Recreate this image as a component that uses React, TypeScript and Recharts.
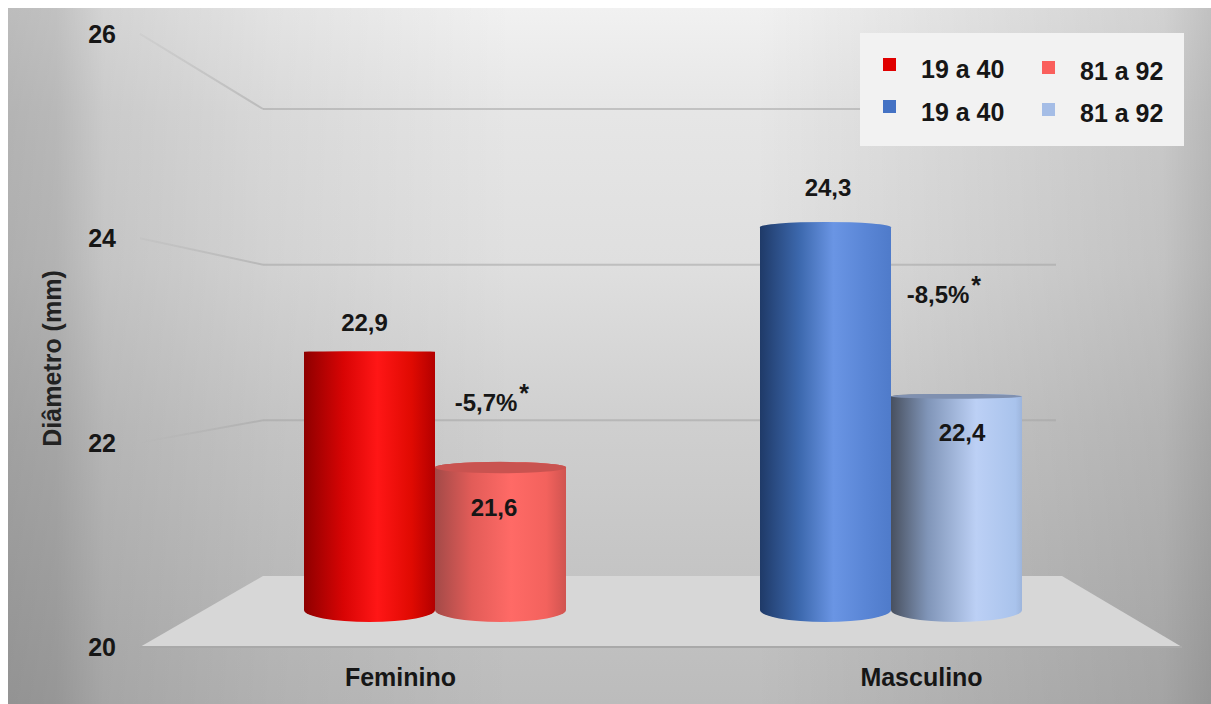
import React from "react";
import {
  BarChart, Bar, XAxis, YAxis, ReferenceLine, ReferenceArea, ReferenceDot, LabelList, Legend,
} from "recharts";

const categories = ["Feminino", "Masculino"];
const youngValues = [22.9, 24.3];
const oldValues = [21.6, 22.4];
const changeLabels = ["-5,7%", "-8,5%"];
const changeLevels = [22.39, 23.45];
const yTicks = [20, 22, 24, 26];
const wallLevels = [22, 24, 26];
const legendRows = [
  { label: "19 a 40", color: "#e00000", label2: "81 a 92", color2: "#fa5f5c" },
  { label: "19 a 40", color: "#4472c4", label2: "81 a 92", color2: "#a5bde6" },
];

const chartData = categories.map((name, i) => ({
  name,
  young: youngValues[i],
  old: oldValues[i],
}));

const FONT = "'Liberation Sans', Arial, sans-serif";
const INK = "#161616";
const HORIZON = 343;
const FLOOR_DROP = 37;
const FLOOR_RY = 12;

const youngStops = [
  [[0, "#8e0000"], [0.3, "#d80404"], [0.56, "#ff1616"], [0.82, "#e00a02"], [1, "#b30000"]],
  [[0, "#1f3a68"], [0.3, "#3c68ad"], [0.56, "#6a95e4"], [0.8, "#5a86d6"], [1, "#4f7bca"]],
];
const oldStops = [
  [[0, "#a34a48"], [0.28, "#e25c58"], [0.58, "#ff6a66"], [0.85, "#f3625d"], [1, "#d05450"]],
  [[0, "#48505f"], [0.28, "#8095b8"], [0.65, "#bcd0f5"], [0.95, "#a9c3ec"], [1, "#9db5dc"]],
];
const oldLids = ["#c95350", "#7f90b0"];

function makeCylinder(stopsList: any[], lids: (string | null)[], prefix: string) {
  return function Cylinder(props: any) {
    const { x, y, width, height, index } = props;
    const stops = stopsList[index];
    const id = `${prefix}-${index}`;
    const bottom = y + height - FLOOR_DROP;
    const rx = width / 2;
    const topRy = Math.max(Math.abs(y - HORIZON) / 22, 0.5);
    const d = `M${x},${y} A${rx},${topRy} 0 0 1 ${x + width},${y} L${x + width},${bottom} A${rx},${FLOOR_RY} 0 0 1 ${x},${bottom} Z`;
    const lid = lids[index];
    return (
      <g>
        <linearGradient id={id} x1="0" y1="0" x2="1" y2="0">
          {stops.map((s: any, i: number) => (
            <stop key={i} offset={s[0]} stopColor={s[1]} />
          ))}
        </linearGradient>
        <path d={d} fill={`url(#${id})`} />
        {lid && y > HORIZON ? (
          <ellipse cx={x + rx} cy={y} rx={rx} ry={topRy} fill={lid} />
        ) : null}
      </g>
    );
  };
}

const YoungCylinder = makeCylinder(youngStops, [null, null], "young");
const OldCylinder = makeCylinder(oldStops, oldLids, "old");

function makeValueLabel(shiftX: number[], shiftY: number[]) {
  return function ValueLabel(props: any) {
    const { x, y, width, value, index } = props;
    return (
      <text
        x={x + width / 2 + shiftX[index]}
        y={y + shiftY[index]}
        textAnchor="middle"
        dominantBaseline="central"
        fontSize={24}
        fontWeight={700}
        fontFamily={FONT}
        fill={INK}
      >
        {Number(value).toFixed(1).replace(".", ",")}
      </text>
    );
  };
}
const YoungLabel = makeValueLabel([-5, 2.5], [-29, -40]);
const OldLabel = makeValueLabel([-6.5, 5.5], [40, 36]);

function WallLine(props: any) {
  const { x1, y1, x2 } = props;
  const backLeft = x1 + 123;
  const backRight = x2 - 126;
  const frontY = 647 + (y1 - 576) * 1.313;
  const id = `wall-fade-${Math.round(y1)}`;
  return (
    <g>
      <linearGradient id={id} x1="0" y1="0" x2="1" y2="0">
        <stop offset={0} stopColor="#a4a4a4" stopOpacity={y1 > 400 ? 0 : 0.12} />
        <stop offset={1} stopColor="#a4a4a4" stopOpacity={0.55} />
      </linearGradient>
      <line x1={x1} y1={frontY} x2={backLeft} y2={y1} stroke={`url(#${id})`} strokeWidth={2} />
      <line x1={backLeft} y1={y1} x2={backRight} y2={y1} stroke="#a4a4a4" strokeOpacity={0.55} strokeWidth={2} />
    </g>
  );
}

function Floor(props: any) {
  const { x, y, width, height } = props;
  const d = `M${x + 123},${y} L${x + width - 120},${y} L${x + width},${y + height} L${x},${y + height} Z`;
  return (
    <g>
      <path d={d} fill="#d7d7d7" />
      <line x1={x} x2={x + width} y1={y + height} y2={y + height} stroke="#a9a9a9" strokeWidth={2} />
    </g>
  );
}

function changeMark(text: string, dx: number) {
  return function ChangeMark(props: any) {
    const { cx, cy } = props;
    return (
      <g fontFamily={FONT} fill={INK} fontSize={24} fontWeight={700}>
        <text x={cx + dx} y={cy} textAnchor="middle" dominantBaseline="central">{text}</text>
        <text x={cx + dx + 38} y={cy - 10} textAnchor="middle" fontSize={25} dominantBaseline="central">*</text>
      </g>
    );
  };
}

function LegendBox() {
  const cell = (label: string, color: string, left: number, top: number, textTop: number, key: string) => (
    <React.Fragment key={key}>
      <div style={{ position: "absolute", left, top, width: 13, height: 13, background: color }} />
      <div style={{ position: "absolute", left: left + 38, top: textTop, fontSize: 25, lineHeight: "28px", fontWeight: 700, color: INK, fontFamily: FONT, whiteSpace: "nowrap" }}>{label}</div>
    </React.Fragment>
  );
  return (
    <div style={{ position: "relative", width: 324, height: 113, background: "#f2f2f2" }}>
      {legendRows.map((r, i) => (
        <React.Fragment key={i}>
          {cell(r.label, r.color, 23, 25 + i * 42, 22 + i * 43, `a${i}`)}
          {cell(r.label2, r.color2, 182, 28 + i * 42, 24 + i * 42, `b${i}`)}
        </React.Fragment>
      ))}
    </div>
  );
}

export default function App() {
  return (
    <div style={{ position: "absolute", left: 0, top: 0, width: 1211, height: 704, background: "#ffffff", overflow: "hidden" }}>
      <div
        style={{
          position: "absolute", left: 8, top: 8, width: 1203, height: 696,
          background:
            "linear-gradient(to right, rgba(0,0,0,0.22) 0%, rgba(0,0,0,0.2) 4%, rgba(0,0,0,0.12) 8%, rgba(0,0,0,0.06) 22%, rgba(0,0,0,0) 42%, rgba(0,0,0,0) 62%, rgba(0,0,0,0.07) 80%, rgba(0,0,0,0.13) 96%, rgba(0,0,0,0.2) 100%), linear-gradient(to bottom, #f1f1f1 0%, #e6e6e6 15%, #dfdfdf 37%, #cfcfcf 60%, #c4c4c4 82%, #bcbcbc 100%)",
        }}
      />
      <div style={{ position: "absolute", left: 0, top: 0 }}>
        <BarChart
          width={1211}
          height={704}
          data={chartData}
          barCategoryGap={97}
          barGap={0}
          margin={{ top: 34, right: 29, bottom: 17, left: 40 }}
        >
          <XAxis
            xAxisId="front" dataKey="name" height={40} axisLine={false} tickLine={false} tickMargin={15}
            tick={{ fontSize: 25, fontWeight: 700, fontFamily: FONT, fill: INK }}
          />
          <XAxis xAxisId="bars" dataKey="name" hide height={0} padding={{ left: 67, right: 63 }} />
          <YAxis
            yAxisId="front" type="number" domain={[20, 26]} ticks={yTicks} width={100} allowDataOverflow
            axisLine={false} tickLine={false} tickSize={0} tickMargin={24} interval={0}
            tick={{ fontSize: 25, fontWeight: 700, fontFamily: FONT, fill: INK }}
            label={{ value: "Diâmetro (mm)", angle: -90, position: "insideLeft", offset: 12, dy: 18, style: { fontSize: 25, fontWeight: 700, fontFamily: FONT, fill: "#222", textAnchor: "middle" } }}
          />
          <YAxis yAxisId="bars" type="number" hide width={0} domain={[19.584, 26.47]} allowDataOverflow />
          <YAxis yAxisId="back" type="number" hide width={0} domain={[19.087, 26.964]} allowDataOverflow />
          <ReferenceArea xAxisId="front" yAxisId="back" y1={20} y2={19.087} shape={Floor} ifOverflow="visible" zIndex={50} />
          {wallLevels.map((v) => (
            <ReferenceLine key={v} xAxisId="front" yAxisId="back" y={v} shape={WallLine} ifOverflow="visible" zIndex={60} />
          ))}
          <Bar dataKey="young" xAxisId="bars" yAxisId="bars" isAnimationActive={false} shape={YoungCylinder} barSize={131}>
            <LabelList dataKey="young" content={YoungLabel} />
          </Bar>
          <Bar dataKey="old" xAxisId="bars" yAxisId="bars" isAnimationActive={false} shape={OldCylinder} barSize={131}>
            <LabelList dataKey="old" content={OldLabel} />
          </Bar>
          {categories.map((c, i) => (
            <ReferenceDot key={c} x={c} y={changeLevels[i]} xAxisId="bars" yAxisId="front" r={0} ifOverflow="visible" shape={changeMark(changeLabels[i], i === 0 ? 51 : 47)} />
          ))}
          <Legend
            layout="horizontal" align="center" verticalAlign="middle"
            wrapperStyle={{ left: 860, top: 33, width: 324, height: 113 }}
            content={() => <LegendBox />}
          />
        </BarChart>
      </div>
    </div>
  );
}
